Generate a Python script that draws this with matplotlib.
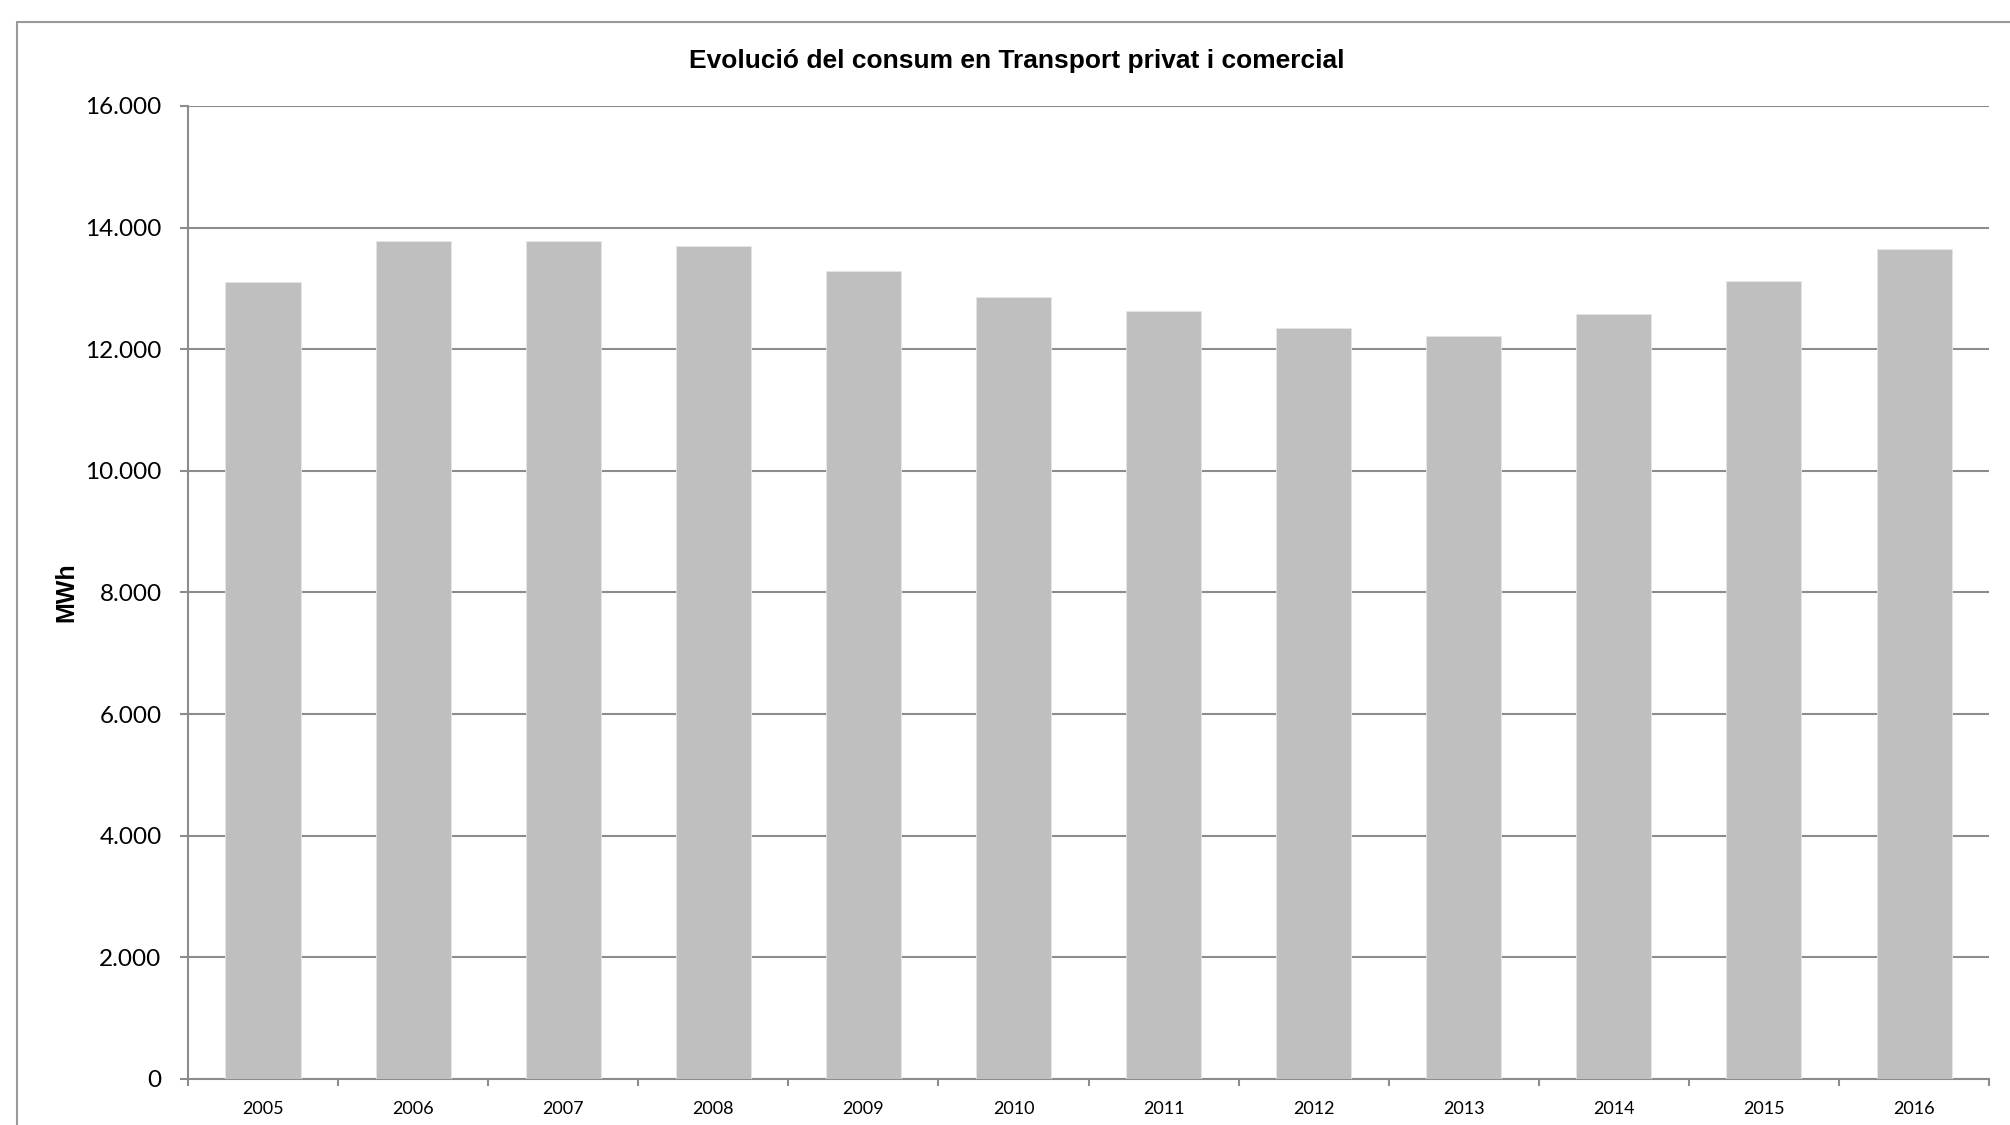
import matplotlib
matplotlib.use('Agg')
import matplotlib.pyplot as plt
import matplotlib.patches as mpatches
import numpy as np
from matplotlib.ticker import FuncFormatter

# ------------------------------------------------------------------ #
# Data
# ------------------------------------------------------------------ #

years = ['2005', '2006', '2007', '2008', '2009', '2010',
         '2011', '2012', '2013', '2014', '2015', '2016']
consum_mwh = [13100, 13780, 13780, 13700, 13290, 12860,
              12630, 12350, 12210, 12580, 13120, 13650]
y_ticks = [0, 2000, 4000, 6000, 8000, 10000, 12000, 14000, 16000]

title = 'Evolució del consum en Transport privat i comercial'
y_label = 'MWh'

GRID = '#8c8c8c'
BAR = '#bfbfbf'


def thousands(v, _pos):
    # Catalan style: dot as thousands separator
    return f'{int(v):,}'.replace(',', '.')


fig = plt.figure(figsize=(20.1, 11.25), dpi=100)
ax = fig.add_axes([0.0935, 0.0409, 0.8961, 0.8649])

x = np.arange(len(years))
ax.bar(x, consum_mwh, width=0.5, color=BAR, edgecolor='#e6e6e6',
       linewidth=0.6, zorder=3)

ax.set_xlim(-0.5, len(years) - 0.5)
ax.set_ylim(0, 16000)
ax.set_yticks(y_ticks)
ax.yaxis.set_major_formatter(FuncFormatter(thousands))
ax.grid(axis='y', color=GRID, linewidth=1.5, zorder=0)

# year labels at bar centres, tick marks on category boundaries
ax.set_xticks(x)
ax.set_xticklabels(years)
ax.set_xticks(np.arange(-0.5, len(years)), minor=True)
ax.tick_params(axis='x', which='major', length=0, pad=16,
               labelsize=13, labelfontfamily='Lato')
ax.tick_params(axis='x', which='minor', length=5, width=1.5,
               color=GRID, direction='out')
ax.tick_params(axis='y', length=6, width=1.5, color=GRID,
               direction='out', pad=13, labelsize=17.5,
               labelfontfamily='Lato')

for side in ('top', 'right'):
    ax.spines[side].set_visible(False)
for side in ('left', 'bottom'):
    ax.spines[side].set_color(GRID)
    ax.spines[side].set_linewidth(1.5)

fig.text(0.506, 0.9396, title, ha='center', va='baseline',
         fontsize=19, fontweight='bold', family='Liberation Sans')
fig.text(0.0328, 0.4738, y_label, ha='center', va='center', rotation=90,
         fontsize=18, fontweight='bold', family='Liberation Sans')

# chart frame, running off the right and bottom edges
frame = mpatches.Rectangle((0.00846, -0.2), 1.2, 0.2 + 0.9804,
                           transform=fig.transFigure, fill=False,
                           edgecolor='#9a9a9a', linewidth=1.5)
fig.patches.append(frame)

fig.savefig('out.png', dpi=100)
